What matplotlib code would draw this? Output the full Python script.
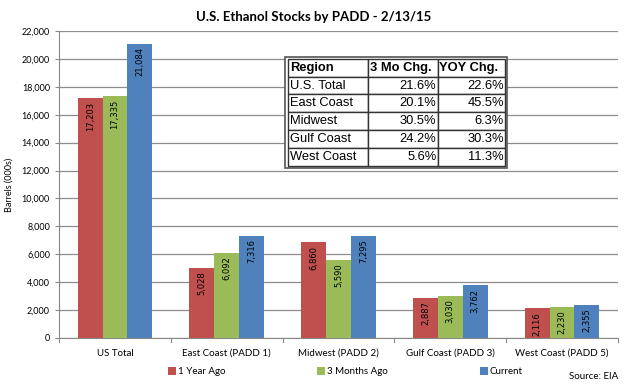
import numpy as np
import matplotlib
matplotlib.use("Agg")
import matplotlib.pyplot as plt
from matplotlib.patches import Rectangle

categories = ["US Total", "East Coast (PADD 1)", "Midwest (PADD 2)",
              "Gulf Coast (PADD 3)", "West Coast (PADD 5)"]
year_ago = [17203, 5028, 6860, 2887, 2116]
three_mo = [17335, 6092, 5590, 3030, 2230]
current = [21084, 7316, 7295, 3762, 2355]
series_names = ["1 Year Ago", "3 Months Ago", "Current"]

table_cols = ["Region", "3 Mo Chg.", "YOY Chg."]
table_regions = ["U.S. Total", "East Coast", "Midwest", "Gulf Coast", "West Coast"]
chg_3mo = ["21.6%", "20.1%", "30.5%", "24.2%", "5.6%"]
chg_yoy = ["22.6%", "45.5%", "6.3%", "30.3%", "11.3%"]

colors = ["#C0504D", "#9BBB59", "#4F81BD"]
plt.rcParams["font.family"] = ["Lato", "DejaVu Sans"]

fig = plt.figure(figsize=(6.28, 3.88), dpi=100)
ax = fig.add_axes([0.094, 0.129, 0.890, 0.791])

x = np.arange(len(categories))
w = 0.222
for i, (vals, c, name) in enumerate(zip([year_ago, three_mo, current], colors, series_names)):
    pos = x + (i - 1) * w
    ax.bar(pos, vals, width=w, color=c, label=name, zorder=3)
    for p, v in zip(pos, vals):
        ax.text(p, v - 250, f"{v:,}", rotation=90, ha="center", va="top",
                fontsize=6, family="DejaVu Sans", color="black", zorder=4)

ax.set_xlim(-0.5, len(categories) - 0.5)
ax.set_ylim(0, 22000)
ax.set_yticks(np.arange(0, 22001, 2000))
ax.set_yticklabels([f"{t:,}" for t in range(0, 22001, 2000)], fontsize=6.5)
ax.set_xticks(x)
ax.set_xticklabels(categories, fontsize=7)
ax.tick_params(axis="x", length=0, pad=8)
ax.tick_params(axis="y", length=3, color="#888888")
for xb in np.arange(-0.5, len(categories), 1):
    ax.plot([xb, xb], [0, -300], color="#888888", lw=0.8, clip_on=False)
ax.grid(axis="y", color="#8c8c8c", lw=0.9, zorder=0)
for s in ["top", "right"]:
    ax.spines[s].set_visible(False)
ax.spines["left"].set_color("#888888")
ax.spines["bottom"].set_color("#888888")
ax.set_ylabel("Barrels (000s)", fontsize=6.5, labelpad=6)

fig.text(0.5, 0.957, "U.S. Ethanol Stocks by PADD - 2/13/15", ha="center",
         va="center", fontsize=9.5, fontweight="bold")
fig.text(0.985, 0.018, "Source: EIA", ha="right", va="bottom", fontsize=7)

fig.legend(loc="center", bbox_to_anchor=(0.55, 0.042), ncol=3, frameon=False,
           fontsize=7, handlelength=0.8, handleheight=0.8, handletextpad=0.2,
           columnspacing=9.5)

# summary table
cell_text = [[r, a, b] for r, a, b in zip(table_regions, chg_3mo, chg_yoy)]
tbl = ax.table(cellText=cell_text, colLabels=table_cols,
               bbox=[0.410, 0.560, 0.388, 0.350],
               colWidths=[0.37, 0.32, 0.31], zorder=6)
tbl.auto_set_font_size(False)
for (r, c), cell in tbl.get_celld().items():
    cell.set_edgecolor("#333333")
    cell.set_linewidth(1.0)
    cell.set_facecolor("white")
    t = cell.get_text()
    t.set_fontfamily("Liberation Sans")
    t.set_fontsize(9.3)
    if r == 0:
        t.set_fontweight("bold")
    cell._loc = "left" if c == 0 or r == 0 else "right"
    t.set_ha(cell._loc)
    cell.PAD = 0.02
# outer frame
ax.add_patch(Rectangle((0.404, 0.553), 0.398, 0.364, transform=ax.transAxes,
                       fill=True, facecolor="white", edgecolor="#555555", lw=1.2, zorder=5))

fig.savefig("out.png", dpi=100)
